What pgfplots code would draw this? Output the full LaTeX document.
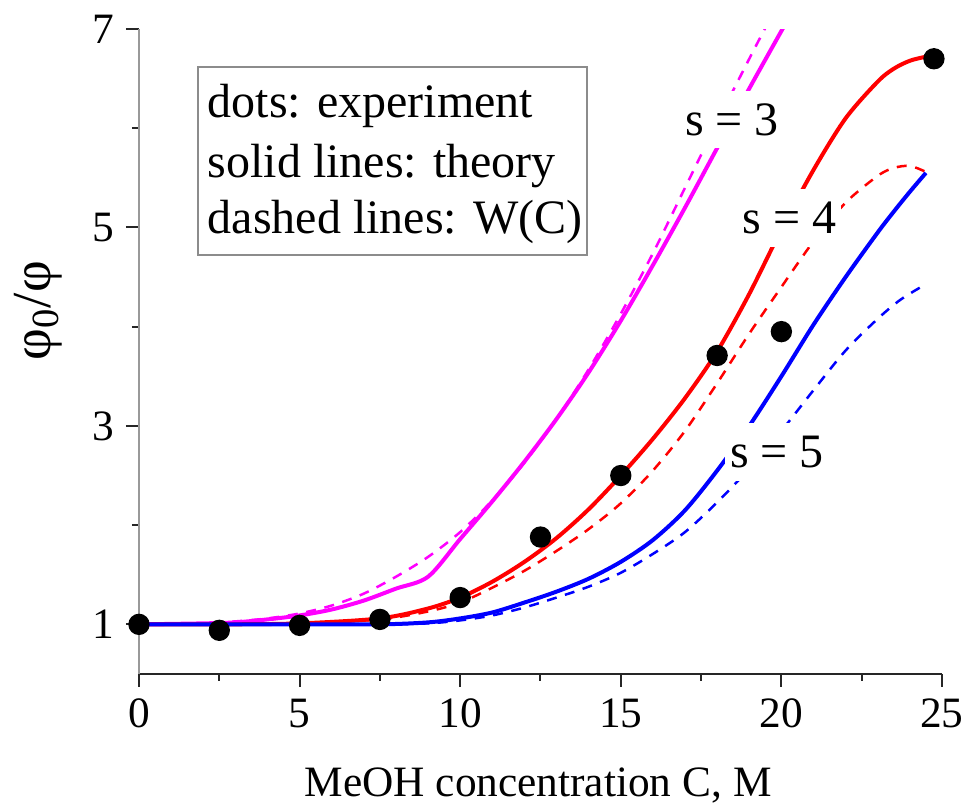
\documentclass[border=0pt]{standalone}
\usepackage{fontspec}
\setmainfont{Liberation Serif}
\usepackage{pgfplots}
\usepackage{pgfplotstable}
\pgfplotsset{compat=1.18}

% theory (solid) and W(C) (dashed) curves for s = 3, 4, 5
\pgfplotstableread{
x y
0 1.00
2 1.01
3 1.02
4 1.05
5 1.09
6 1.15
7 1.24
8 1.36
9 1.48
10 1.86
11 2.24
12 2.64
13 3.07
14 3.54
15 4.06
16 4.62
17 5.20
18 5.80
19 6.40
20 6.98
20.5 7.27
}\sthreesolid
\pgfplotstableread{
x y
0 1.00
2 1.01
3 1.03
4 1.06
5 1.11
6 1.19
7 1.31
8 1.48
9 1.68
10 1.93
11 2.25
12 2.63
13 3.07
14 3.57
15 4.13
16 4.74
17 5.40
18 6.06
19 6.70
19.55 7.04
20 7.30
}\sthreedash
\pgfplotstableread{
x y
0 1.00
2.5 1.00
5 1.01
7.5 1.06
9 1.16
10 1.27
11 1.43
12 1.63
13 1.87
14 2.16
15 2.50
16 2.87
17 3.28
18 3.75
19 4.33
20 4.98
21 5.58
22 6.10
23 6.47
23.5 6.60
24 6.68
24.5 6.72
24.75 6.72
}\sfoursolid
\pgfplotstableread{
x y
0 1.00
2.5 1.00
5 1.01
7.5 1.05
9 1.13
10 1.22
11 1.37
12 1.54
13 1.74
14 1.96
15 2.22
16 2.55
17 2.95
18 3.43
19 3.93
20 4.40
21 4.86
22 5.25
23 5.52
23.5 5.60
24 5.62
24.5 5.56
}\sfourdash
\pgfplotstableread{
x y
0 1.00
5 1.00
7.5 1.00
9 1.02
10 1.06
11 1.12
12 1.22
13 1.33
14 1.46
15 1.63
16 1.85
17 2.15
18 2.55
19 3.00
20 3.50
21 4.02
22 4.50
23 4.95
23.5 5.16
24 5.36
24.5 5.55
}\sfivesolid
\pgfplotstableread{
x y
0 1.00
5 1.00
7.5 1.00
9 1.01
10 1.04
11 1.09
12 1.17
13 1.27
14 1.38
15 1.52
16 1.71
17 1.93
18 2.23
19 2.57
20 2.95
21 3.36
22 3.76
23 4.08
23.7 4.27
24.4 4.41
}\sfivedash
% measured points
\pgfplotstableread{
x y
0 1.00
2.5 0.94
5 0.99
7.5 1.05
10 1.27
12.5 1.88
15 2.50
18 3.71
20 3.95
24.75 6.70
}\experiment

\definecolor{cmag}{RGB}{255,0,255}
\definecolor{cred}{RGB}{255,0,0}
\definecolor{cblue}{RGB}{0,0,255}

\begin{document}
\begin{tikzpicture}
\begin{axis}[
  name=ax, at={(0,0)}, anchor=south west,
  scale only axis, width=240.9pt, height=193.5pt,
  xmin=0, xmax=25, ymin=0.5, ymax=7,
  axis x line*=bottom, axis y line*=left,
  x axis line style={black!85, line width=0.7pt, -},
  y axis line style={black!40, line width=0.7pt, -},
  xtick={0,5,...,25}, minor xtick={2.5,7.5,...,22.5},
  ytick={1,3,5,7}, minor ytick={2,4,6},
  tick align=outside,
  major tick length=3.9pt, minor tick length=2.1pt,
  every tick/.style={black!85, line width=0.6pt},
  /pgf/number format/assume math mode=true,
  tick label style={font=\fontsize{13}{15}\selectfont},
  xlabel={MeOH concentration C, M},
  ylabel={φ\textsubscript{0}/φ},
  every axis x label/.style={at={(rel axis cs:0.497,0)}, yshift=-36.9pt, anchor=base,
    font=\fontsize{13}{15}\selectfont},
  every axis y label/.style={at={(rel axis cs:0,0.563)}, xshift=-30.3pt, anchor=center,
    rotate=90, font=\fontsize{16.5}{19}\selectfont},
  clip mode=individual,
  smooth, tension=0.5,
]
\addplot[cmag, dash pattern=on 3pt off 2.6pt, line width=0.75pt] table {\sthreedash};
\addplot[cmag, line width=1.2pt] table {\sthreesolid};
\addplot[cred, dash pattern=on 3pt off 2.6pt, line width=0.75pt] table {\sfourdash};
\addplot[cred, line width=1.2pt] table {\sfoursolid};
\addplot[cblue, dash pattern=on 3pt off 2.6pt, line width=0.75pt] table {\sfivedash};
\addplot[cblue, line width=1.2pt] table {\sfivesolid};

% curve labels, on white so the lines break around them
\begin{scope}[every node/.style={fill=white, inner xsep=1.5pt, inner ysep=3.8pt,
    anchor=base, font=\fontsize{14.4}{17}\selectfont}]
\node at (axis cs:18.46,5.93) {s = 3};
\node at (axis cs:20.25,4.94) {s = 4};
\node at (axis cs:19.86,2.58) {s = 5};
\end{scope}

\addplot[only marks, mark=*, mark size=3pt, black] table {\experiment};

% explanatory box
\draw[black!45, fill=white, line width=0.6pt] (axis cs:1.84,4.72) rectangle (axis cs:13.95,6.617);
\begin{scope}[every node/.style={anchor=base west, inner sep=0pt,
    font=\fontsize{14.4}{17}\selectfont}]
\node at (axis cs:2.12,6.11) {dots: experiment};
\node at (axis cs:2.12,5.50) {solid lines: theory};
\node at (axis cs:2.12,4.94) {dashed lines: W(C)};
\end{scope}
\end{axis}
\pgfresetboundingbox
\path[use as bounding box] (-41.7pt,-40.5pt) rectangle (248.4pt,202.2pt);
\end{tikzpicture}
\end{document}
